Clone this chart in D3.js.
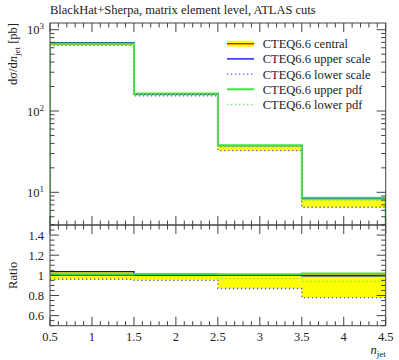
<!DOCTYPE html>
<html>
<head>
<meta charset="utf-8">
<script src="https://cdn.jsdelivr.net/npm/d3@7"></script>
<style>
  body { margin: 0; background: #fff; }
</style>
</head>
<body>
<div id="wrapper"></div>
<script>
// data
const binEdges = [0.5, 1.5, 2.5, 3.5, 4.5]
const central = [670, 162, 37.5, 8.4]
const upperScale = [695, 163, 37.6, 8.35]
const lowerScale = [643, 154, 32.6, 6.55]
const upperPdf = [678, 164, 37.9, 8.56]
const lowerPdf = [655, 158.5, 36.4, 7.9]
const xTickLabels = ["0.5", "1", "1.5", "2", "2.5", "3", "3.5", "4", "4.5"]
const ratioTickLabels = ["0.6", "0.8", "1", "1.2", "1.4"]
const legendLabels = ["CTEQ6.6 central", "CTEQ6.6 upper scale", "CTEQ6.6 lower scale", "CTEQ6.6 upper pdf", "CTEQ6.6 lower pdf"]

const seriesList = [
  { name: legendLabels[1], values: upperScale, color: "#0000ee", width: 1.3, dash: null },
  { name: legendLabels[2], values: lowerScale, color: "#5555ff", width: 1.3, dash: "1.3,2.7" },
  { name: legendLabels[3], values: upperPdf, color: "#44e044", width: 2, dash: null },
  { name: legendLabels[4], values: lowerPdf, color: "#66ee66", width: 1.3, dash: "1.3,2.7" },
]

const dims = {
  width: 399, height: 360,
  left: 50, right: 385.7,
  mainTop: 23, mainBottom: 225,
  ratioTop: 225, ratioBottom: 325.7,
}
const serif = "'Liberation Serif', 'DejaVu Serif', 'Times New Roman', serif"

const svg = d3.select("#wrapper").append("svg")
  .attr("width", dims.width)
  .attr("height", dims.height)
  .attr("font-family", serif)

const xScale = d3.scaleLinear().domain([0.5, 4.5]).range([dims.left, dims.right])
const yScale = d3.scaleLog().domain([3.96, 1210]).range([dims.mainBottom, dims.mainTop])
const rScale = d3.scaleLinear().domain([0.5, 1.5]).range([dims.ratioBottom, dims.ratioTop])

const bins = central.map((c, i) => {
  const all = [c, upperScale[i], lowerScale[i], upperPdf[i], lowerPdf[i]]
  return { x0: binEdges[i], x1: binEdges[i + 1], c, lo: d3.min(all), hi: d3.max(all) }
})

// clip paths
const defs = svg.append("defs")
defs.append("clipPath").attr("id", "clipMain").append("rect")
  .attr("x", dims.left).attr("y", dims.mainTop)
  .attr("width", dims.right - dims.left).attr("height", dims.mainBottom - dims.mainTop)
defs.append("clipPath").attr("id", "clipRatio").append("rect")
  .attr("x", dims.left).attr("y", dims.ratioTop)
  .attr("width", dims.right - dims.left).attr("height", dims.ratioBottom - dims.ratioTop)

// step path from bin values
function stepPath(vals, scale, toBase) {
  const p = d3.path()
  const base = scale.range()[0] + 5
  if (toBase) p.moveTo(xScale(binEdges[0]), base)
  vals.forEach((v, i) => {
    const y = scale(v)
    if (i === 0 && !toBase) p.moveTo(xScale(binEdges[0]), y)
    else p.lineTo(xScale(binEdges[i]), y)
    p.lineTo(xScale(binEdges[i + 1]), y)
  })
  if (toBase) p.lineTo(xScale(binEdges[binEdges.length - 1]), base)
  return p.toString()
}

// main panel
const main = svg.append("g").attr("clip-path", "url(#clipMain)")
main.selectAll("rect.band").data(bins).join("rect")
  .attr("class", "band")
  .attr("x", d => xScale(d.x0)).attr("width", d => xScale(d.x1) - xScale(d.x0))
  .attr("y", d => yScale(d.hi)).attr("height", d => yScale(d.lo) - yScale(d.hi))
  .attr("fill", "#ffff00")
main.append("path").attr("d", stepPath(central, yScale, true))
  .attr("fill", "none").attr("stroke", "#ee0000").attr("stroke-width", 1.3)
seriesList.forEach(s => {
  main.append("path").attr("d", stepPath(s.values, yScale, true))
    .attr("fill", "none").attr("stroke", s.color).attr("stroke-width", s.width)
    .attr("stroke-dasharray", s.dash)
})

// ratio panel
const ratio = svg.append("g").attr("clip-path", "url(#clipRatio)")
ratio.selectAll("rect.band").data(bins).join("rect")
  .attr("class", "band")
  .attr("x", d => xScale(d.x0)).attr("width", d => xScale(d.x1) - xScale(d.x0))
  .attr("y", d => rScale(d.hi / d.c)).attr("height", d => rScale(d.lo / d.c) - rScale(d.hi / d.c))
  .attr("fill", "#ffff00")
ratio.append("path").attr("d", stepPath(central.map(c => 1), rScale, false))
  .attr("fill", "none").attr("stroke", "#ee0000").attr("stroke-width", 1.3)
seriesList.forEach(s => {
  ratio.append("path").attr("d", stepPath(s.values.map((v, i) => v / central[i]), rScale, false))
    .attr("fill", "none").attr("stroke", s.color).attr("stroke-width", s.width)
    .attr("stroke-dasharray", s.dash)
})

// frames and ticks
const axisColor = "#444"
function frame(top, bottom) {
  svg.append("rect").attr("x", dims.left).attr("y", top)
    .attr("width", dims.right - dims.left).attr("height", bottom - top)
    .attr("fill", "none").attr("stroke", axisColor).attr("stroke-width", 1)
}
frame(dims.mainTop, dims.mainBottom)
frame(dims.ratioTop, dims.ratioBottom)

const ticks = svg.append("g").attr("stroke", axisColor).attr("stroke-width", 1)
const xMinor = d3.range(5, 46).map(v => v / 10)
function xTicks(top, bottom) {
  xMinor.forEach(v => {
    const major = Math.abs(v * 2 - Math.round(v * 2)) < 1e-6
    const len = major ? 9 : 4.5
    const x = xScale(v)
    ticks.append("line").attr("x1", x).attr("x2", x).attr("y1", top).attr("y2", top + len)
    ticks.append("line").attr("x1", x).attr("x2", x).attr("y1", bottom).attr("y2", bottom - len)
  })
}
xTicks(dims.mainTop, dims.mainBottom)
xTicks(dims.ratioTop, dims.ratioBottom)

function yTick(y, len) {
  ticks.append("line").attr("x1", dims.left).attr("x2", dims.left + len).attr("y1", y).attr("y2", y)
  ticks.append("line").attr("x1", dims.right).attr("x2", dims.right - len).attr("y1", y).attr("y2", y)
}
yScale.ticks().forEach(v => {
  const e = Math.log10(v)
  const major = Math.abs(e - Math.round(e)) < 1e-6
  yTick(yScale(v), major ? 9 : 4.5)
})
d3.range(10, 31).map(v => v / 20).forEach(v => {
  const major = Math.abs(v * 5 - Math.round(v * 5)) < 1e-6
  yTick(rScale(v), major ? 9 : 4.5)
})

// tick labels
const labels = svg.append("g").attr("font-size", 12.5).attr("fill", "#222")
labels.selectAll("text.xl").data(xTickLabels).join("text")
  .attr("x", d => xScale(+d)).attr("y", dims.ratioBottom + 15)
  .attr("text-anchor", "middle").text(d => d)
labels.selectAll("text.rl").data(ratioTickLabels).join("text")
  .attr("x", dims.left - 6).attr("y", d => rScale(+d) + 4.5)
  .attr("text-anchor", "end").text(d => d)
const decades = [1, 2, 3]
decades.forEach(e => {
  const t = labels.append("text").attr("x", dims.left - 6).attr("y", yScale(Math.pow(10, e)) + 4.5)
    .attr("text-anchor", "end")
  t.append("tspan").text("10")
  t.append("tspan").attr("dy", -5).attr("font-size", 9).text(e)
})

// title and axis labels
svg.append("text").attr("x", dims.left).attr("y", 14)
  .attr("font-size", 12.5).attr("fill", "#222")
  .text("BlackHat+Sherpa, matrix element level, ATLAS cuts")

const yLab = svg.append("text")
  .attr("transform", `translate(17, ${dims.mainTop}) rotate(-90)`)
  .attr("text-anchor", "end").attr("font-size", 12.5).attr("fill", "#222")
yLab.append("tspan").text("dσ/d")
yLab.append("tspan").attr("font-style", "italic").text("n")
yLab.append("tspan").attr("dy", 3).attr("font-size", 9).text("jet")
yLab.append("tspan").attr("dy", -3).text(" [pb]")

svg.append("text")
  .attr("transform", `translate(17, ${rScale(1)}) rotate(-90)`)
  .attr("text-anchor", "middle").attr("font-size", 12.5).attr("fill", "#222")
  .text("Ratio")

const xLab = svg.append("text").attr("x", dims.right).attr("y", 354)
  .attr("text-anchor", "end").attr("font-size", 12.5).attr("fill", "#222")
xLab.append("tspan").attr("font-style", "italic").text("n")
xLab.append("tspan").attr("dy", 3).attr("font-size", 9).text("jet")

// legend
const legend = svg.append("g").attr("transform", "translate(227, 43.7)")
const legendRows = [{ name: legendLabels[0], central: true }].concat(seriesList)
legendRows.forEach((s, i) => {
  const row = legend.append("g").attr("transform", `translate(0, ${i * 15.2})`)
  if (s.central) {
    row.append("rect").attr("x", 0).attr("y", -3).attr("width", 27).attr("height", 6).attr("fill", "#ffff00")
    row.append("line").attr("x1", 0).attr("x2", 27).attr("stroke", "#ee0000").attr("stroke-width", 1.3)
  } else {
    row.append("line").attr("x1", 0).attr("x2", 27).attr("stroke", s.color)
      .attr("stroke-width", s.width).attr("stroke-dasharray", s.dash)
  }
  row.append("text").attr("x", 35.7).attr("y", 4.5).attr("font-size", 12.5).attr("fill", "#222").text(s.name)
})
</script>
</body>
</html>
